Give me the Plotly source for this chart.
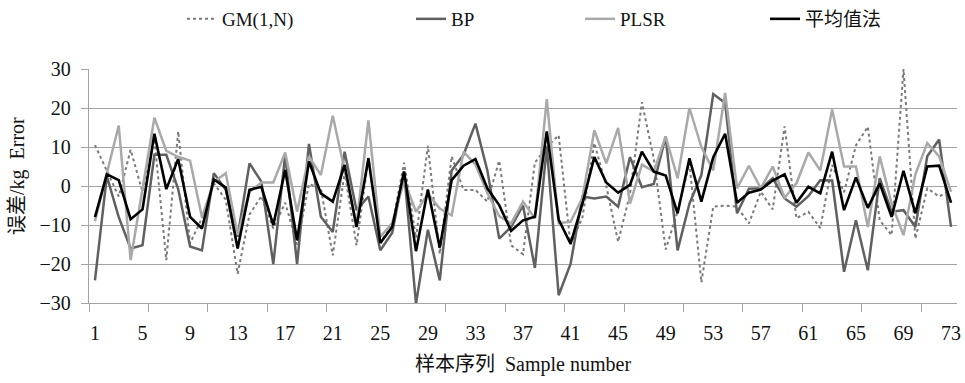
import plotly.graph_objects as go

samples = list(range(1, 74))

gm = [10.5, 4, -2.7, 9.3, -1.5, 12, -19, 14, -14.7, -8.2,
      0.7, -3.5, -22.5, -7.3, -2.6, -10.9, -4.3, -15, 0.5, -0.6,
      -17.8, 3.5, -15.2, 7.2, -14.3, -10, 6, -13.3, 10.3, -17.4,
      7.6, -1, -1, -4, 6.5, -15.2, -17.5, 6, 10, 13,
      -15, -8, 11, 0, -14.3, -2, 21.5, 7, -16.3, -6.5,
      5.8, -24.7, -5.3, -5, -5.3, -9.6, -1.5, -6, 15.3, -8.3,
      -6.6, -10.8, 5.4, -1.6, 10.4, 15.2, -8.8, -12.6, 30, -13.5,
      -0.6, -2.7, -1]

bp = [-24.2, 2.5, -8, -16, -15.2, 8, 8, -0.8, -15.5, -16.5,
      3.3, -1, -13, 5.8, 1.1, -20, 8, -20, 10.8, -7.9,
      -11.8, 8.8, -6.2, -2.7, -16.5, -12, 3.7, -30.2, -11.2, -24.2,
      4, 8, 16, 4, -13.5, -10.5, -5, -21, 10, -28,
      -20, -2.7, -3.2, -2.7, -5.3, 7.4, -0.3, 0.5, 12.7, -16.5,
      -4.5, 2.8, 23.6, 21.3, -7, -0.7, -0.6, 2, -3.2, -5.3,
      -2.6, 1.5, 1.4, -22, -8.8, -21.6, 2, -6.6, -6.2, -10.5,
      7.6, 11.9, -10.5]

plsr = [-9, 3, 15.5, -19, -1, 17.5, 9, 7.5, 6.5, -8,
        1, 3.3, -12.5, -1.5, 0.9, 0.9, 8.6, -6.6, 7.6, 2.8,
        18, 4, -10, 16.8, -13, -9.5, 1.4, -6.6, -2, -5.8,
        -7.5, 8.8, 5.5, -1.8, -7.7, -9.6, -4, -8.3, 22.3, -9.5,
        -9.2, -3, 14.3, 5.8, 14.9, -4.5, 5.5, 3.7, 12.7, 2,
        20, 10, 4, 23.9, -0.6, 5.2, -0.6, 5, -3, 0.7,
        8.6, 4, 19.6, 5, 5, -10.5, 7.6, -4.5, -12.6, 3,
        11, 7.6, -1.5]

avg = [-8, 3, 1.5, -8.5, -6, 13.4, -0.8, 6.9, -7.9, -10.9,
       1.7, -0.4, -16, -1, -0.2, -10, 4.1, -13.9, 6.3, -1.9,
       -4, 5.4, -10.5, 7.1, -14.6, -10.5, 3.7, -16.7, -0.9, -15.8,
       1.5, 5.2, 6.9, -0.6, -4.9, -11.5, -8.8, -7.9, 14, -8.6,
       -14.8, -4.5, 7.4, 0.9, -1.7, 0.3, 8.8, 3.7, 2.7, -7,
       7.1, -4, 7.4, 13.4, -4.3, -1.7, -0.9, 1.4, 3, -4.3,
       -0.2, -1.9, 8.8, -6.2, 2.2, -5.6, 0.7, -7.9, 3.9, -7,
       5, 5.2, -4.3]

x_ticks = list(range(1, 74, 4))
y_ticks = [-30, -20, -10, 0, 10, 20, 30]

names = ["GM(1,N)", "BP", "PLSR", "平均值法"]

FONT = "Liberation Serif, Times New Roman, Noto Sans CJK SC, serif"
GRID = "#a3a3a3"

fig = go.Figure()
fig.add_trace(go.Scatter(x=samples, y=gm, mode="lines", name=names[0],
                         line=dict(color="#7a7a7a", width=2, dash="dot"),
                         legend="legend"))
fig.add_trace(go.Scatter(x=samples, y=bp, mode="lines", name=names[1],
                         line=dict(color="#606060", width=2.5),
                         legend="legend2"))
fig.add_trace(go.Scatter(x=samples, y=plsr, mode="lines", name=names[2],
                         line=dict(color="#a9a9a9", width=2.5),
                         legend="legend3"))
fig.add_trace(go.Scatter(x=samples, y=avg, mode="lines", name=names[3],
                         line=dict(color="#000000", width=2.6),
                         legend="legend4"))

L, R, T, B = 89, 8, 69, 80
W, H = 965, 383
pw = W - L - R
ph = H - T - B


def px_x(p):
    return (p - L) / pw


def px_y(p):
    return (H - B - p) / ph


leg_common = dict(font=dict(family=FONT, size=19, color="#111"),
                  bgcolor="rgba(0,0,0,0)", xanchor="left", yanchor="middle",
                  xref="container", yref="container",
                  orientation="h", itemclick=False)
legend_text_x = [224, 453, 622, 807]
legs = {}
for i, key in enumerate(["legend", "legend2", "legend3", "legend4"]):
    legs[key] = dict(leg_common, x=(legend_text_x[i] - 42) / W, y=1 - 19 / H)

fig.update_layout(
    width=W, height=H,
    margin=dict(l=L, r=R, t=T, b=B, pad=0, autoexpand=False),
    paper_bgcolor="white", plot_bgcolor="white",
    font=dict(family=FONT, size=19, color="#111"),
    showlegend=True,
    **legs,
    xaxis=dict(
        range=[0.5, 73.5], tickmode="array", tickvals=x_ticks,
        ticktext=[str(v) for v in x_ticks], ticks="", showgrid=False,
        showline=True, linecolor=GRID, linewidth=1.3, zeroline=False,
        automargin=False,
        ticklabelstandoff=12, tickfont=dict(family=FONT, size=20, color="#111"),
        minor=dict(tickmode="linear", tick0=0.5, dtick=5, ticks="outside",
                   ticklen=8, tickcolor=GRID, tickwidth=1.3, showgrid=False),
    ),
    yaxis=dict(
        range=[-30, 30], tickmode="array", tickvals=y_ticks,
        ticks="outside", ticklen=7, tickcolor=GRID, tickwidth=1.3,
        showgrid=True, gridcolor=GRID, gridwidth=1.3,
        showline=True, linecolor=GRID, linewidth=1.3, zeroline=False,
        automargin=False,
        ticklabelstandoff=6, tickfont=dict(family=FONT, size=20, color="#111"),
    ),
    annotations=[
        dict(text="样本序列\u00a0\u00a0Sample number", xref="paper", yref="paper",
             x=0.5, y=px_y(364), xanchor="center", yanchor="middle",
             showarrow=False, font=dict(family=FONT, size=20, color="#111")),
        dict(text="误差/kg\u00a0\u00a0Error", xref="paper", yref="paper",
             x=px_x(17), y=px_y(176), xanchor="center", yanchor="middle",
             textangle=-90, showarrow=False,
             font=dict(family=FONT, size=20, color="#111")),
    ],
)

fig.write_html(
    "out.html",
    config={"displayModeBar": False},
    post_script="document.body.style.margin='0';document.body.style.padding='0';"
                "document.body.style.overflow='hidden';",
)
